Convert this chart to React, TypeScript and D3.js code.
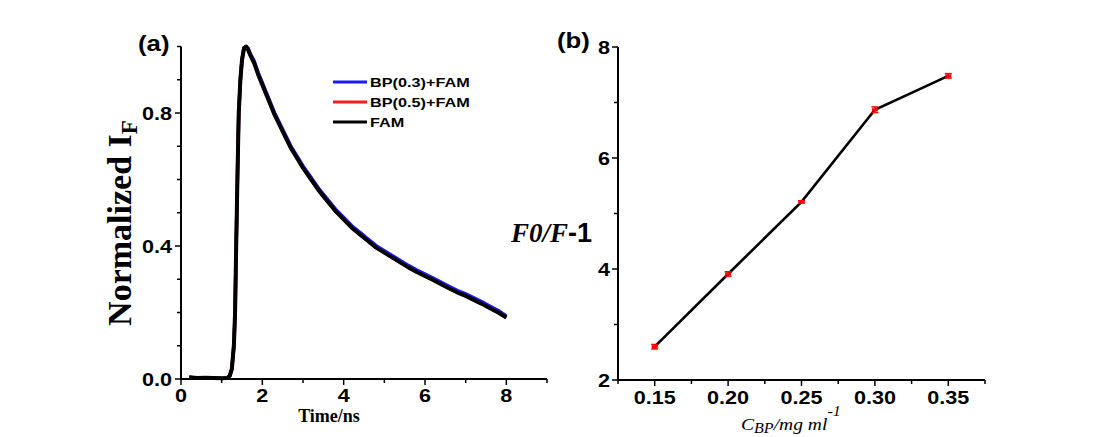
import React from "react";
import * as d3 from "d3";

// panel (a): fluorescence decay
const decayTime = [
  0.2, 0.4, 0.6, 0.8, 1.0, 1.1, 1.15, 1.2, 1.25, 1.3, 1.33, 1.36, 1.39, 1.42, 1.46, 1.5,
  1.55, 1.6, 1.65, 1.7, 1.8, 1.9, 2.0, 2.1, 2.2, 2.3, 2.4, 2.5, 2.6, 2.7, 2.8, 2.9, 3.0,
  3.2, 3.4, 3.6, 3.8, 4.0, 4.2, 4.4, 4.6, 4.8, 5.0, 5.2, 5.4, 5.6, 5.8, 6.0, 6.2, 6.4,
  6.6, 6.8, 7.0, 7.2, 7.4, 7.6, 7.8, 8.0,
];
const famValues = [
  0.005, 0.003, 0.004, 0.003, 0.002, 0.003, 0.004, 0.01, 0.03, 0.1, 0.2, 0.42, 0.62, 0.8,
  0.9, 0.96, 0.995, 1.0, 0.99, 0.975, 0.95, 0.915, 0.885, 0.855, 0.825, 0.795, 0.77,
  0.745, 0.72, 0.695, 0.675, 0.655, 0.635, 0.6, 0.565, 0.535, 0.505, 0.48, 0.455, 0.435,
  0.415, 0.395, 0.38, 0.365, 0.35, 0.335, 0.322, 0.31, 0.298, 0.285, 0.272, 0.26, 0.25,
  0.238, 0.226, 0.213, 0.2, 0.185,
];
const bp03Values = [
  0.005, 0.003, 0.004, 0.003, 0.002, 0.003, 0.004, 0.01, 0.03, 0.1, 0.2, 0.42, 0.62, 0.8,
  0.9, 0.96, 0.995, 1.0, 0.995, 0.98, 0.956, 0.921, 0.891, 0.861, 0.831, 0.801, 0.776,
  0.751, 0.726, 0.701, 0.681, 0.661, 0.641, 0.606, 0.571, 0.541, 0.511, 0.486, 0.461,
  0.441, 0.421, 0.401, 0.386, 0.371, 0.356, 0.341, 0.328, 0.316, 0.304, 0.291, 0.278,
  0.266, 0.256, 0.244, 0.232, 0.219, 0.206, 0.19,
];
const bp05Values = [
  0.005, 0.003, 0.004, 0.003, 0.002, 0.003, 0.004, 0.01, 0.03, 0.1, 0.2, 0.42, 0.62, 0.8,
  0.9, 0.96, 0.995, 1.0, 0.99, 0.975, 0.95, 0.915, 0.885, 0.855, 0.825, 0.795, 0.77,
  0.745, 0.72, 0.695, 0.675, 0.655, 0.635, 0.6, 0.565, 0.535, 0.505, 0.48, 0.455, 0.435,
  0.415, 0.395, 0.38, 0.365, 0.35, 0.335, 0.322, 0.31, 0.298, 0.285, 0.272, 0.26, 0.25,
  0.238, 0.226, 0.213, 0.2, 0.185,
];
const seriesNames = ["BP(0.3)+FAM", "BP(0.5)+FAM", "FAM"];
const seriesColors = ["#1a1aff", "#ff1a1a", "#000000"];

// panel (b): F0/F-1 vs C_BP
const concBP = [0.15, 0.2, 0.25, 0.3, 0.35];
const quench = [2.6, 3.91, 5.21, 6.87, 7.48];
const quenchErr = [0.04, 0.04, 0.02, 0.05, 0.04];

const sans = "'Liberation Sans', Arial, sans-serif";
const serif = "'Liberation Serif', 'Times New Roman', serif";

// bold sans label, a bit wider than normal like the original figure
const Label = ({ x, y, anchor = "middle", size = 18, sx = 1.2, children }: any) => (
  <text
    transform={`translate(${x},${y}) scale(${sx},1)`}
    textAnchor={anchor}
    fontFamily={sans}
    fontWeight="bold"
    fontSize={size}
  >
    {children}
  </text>
);

const App = () => {
  // panel a scales
  const xa = d3.scaleLinear().domain([0, 9]).range([181, 547]);
  const ya = d3.scaleLinear().domain([0, 1]).range([379, 46.5]);
  const line = d3
    .line<number>()
    .x((_, i) => xa(decayTime[i]))
    .y((d) => ya(d));
  const allSeries = [bp03Values, bp05Values, famValues];

  // panel b scales
  const xb = d3.scaleLinear().domain([0.125, 0.375]).range([618, 985]);
  const yb = d3.scaleLinear().domain([2, 8]).range([380, 47]);
  const lineB = d3
    .line<number>()
    .x((_, i) => xb(concBP[i]))
    .y((d) => yb(d));

  const aXTicks = d3.range(0, 10, 1);
  const aYTicks = d3.range(0, 11, 1).map((d) => d / 10);
  const bXTicks = d3.range(0, 6).map((d) => 0.125 + d * 0.05);
  const bXMajor = concBP;
  const bYTicks = d3.range(2, 9, 1);

  return (
    <svg
      width={1103}
      height={437}
      style={{ position: "absolute", left: 0, top: 0, background: "#fff" }}
    >
      {/* ---------- panel (a) ---------- */}
      <g>
        {allSeries.map((vals, k) => (
          <path
            key={k}
            d={line(vals) || ""}
            fill="none"
            stroke={seriesColors[k]}
            strokeWidth={k === 2 ? 4 : 3.4}
            strokeLinejoin="round"
          />
        ))}
        {/* axes */}
        <line x1={xa(0)} x2={xa(0)} y1={ya(0) + 1} y2={ya(1)} stroke="#000" strokeWidth={2} />
        <line x1={xa(0) - 1} x2={xa(9)} y1={ya(0)} y2={ya(0)} stroke="#000" strokeWidth={2} />
        {aXTicks.map((t) => (
          <line
            key={"ax" + t}
            x1={xa(t)}
            x2={xa(t)}
            y1={ya(0)}
            y2={ya(0) + (t % 2 === 0 ? 6 : 4)}
            stroke="#000"
            strokeWidth={1.5}
          />
        ))}
        {aXTicks
          .filter((t) => t % 2 === 0)
          .map((t) => (
            <Label key={"axl" + t} x={xa(t)} y={402}>
              {t}
            </Label>
          ))}
        {aYTicks.map((t, i) => (
          <line
            key={"ay" + i}
            x1={xa(0)}
            x2={xa(0) - (i % 4 === 0 ? 6 : 4)}
            y1={ya(t)}
            y2={ya(t)}
            stroke="#000"
            strokeWidth={1.5}
          />
        ))}
        {[0, 0.4, 0.8].map((t) => (
          <Label key={"ayl" + t} x={172} y={ya(t) + 6.5} anchor="end">
            {t.toFixed(1)}
          </Label>
        ))}
        <text x={329} y={422} textAnchor="middle" fontFamily={serif} fontWeight="bold" fontSize={18}>
          Time/ns
        </text>
        <text
          transform="translate(131,223) rotate(-90)"
          textAnchor="middle"
          fontFamily={serif}
          fontWeight="bold"
          fontSize={34}
        >
          Normalized I
          <tspan fontSize={23} dy={6}>
            F
          </tspan>
        </text>
        <Label x={138} y={51} anchor="start" size={23} sx={1.12}>
          (a)
        </Label>
        {/* legend */}
        {seriesNames.map((name, k) => (
          <g key={name} transform={`translate(333,${82 + k * 20})`}>
            <line x1={0} x2={34} y1={0} y2={0} stroke={seriesColors[k]} strokeWidth={3} />
            <Label x={37} y={5} anchor="start" size={13} sx={1.25}>
              {name}
            </Label>
          </g>
        ))}
      </g>

      {/* ---------- panel (b) ---------- */}
      <g>
        <path d={lineB(quench) || ""} fill="none" stroke="#000" strokeWidth={2.6} />
        {concBP.map((c, i) => (
          <g key={"eb" + i} stroke="#ff0000" strokeWidth={1.5}>
            <line x1={xb(c)} x2={xb(c)} y1={yb(quench[i] - quenchErr[i])} y2={yb(quench[i] + quenchErr[i])} />
            <line x1={xb(c) - 3.5} x2={xb(c) + 3.5} y1={yb(quench[i] - quenchErr[i])} y2={yb(quench[i] - quenchErr[i])} />
            <line x1={xb(c) - 3.5} x2={xb(c) + 3.5} y1={yb(quench[i] + quenchErr[i])} y2={yb(quench[i] + quenchErr[i])} />
            <rect x={xb(c) - 3} y={yb(quench[i]) - 1.5} width={6} height={3} fill="#ff0000" stroke="none" />
          </g>
        ))}
        <line x1={xb(0.125)} x2={xb(0.125)} y1={yb(2) + 1} y2={yb(8)} stroke="#000" strokeWidth={2} />
        <line x1={xb(0.125) - 1} x2={xb(0.375)} y1={yb(2)} y2={yb(2)} stroke="#000" strokeWidth={2} />
        {bXMajor.concat(bXTicks).map((t, i) => (
          <line
            key={"bx" + i}
            x1={xb(t)}
            x2={xb(t)}
            y1={yb(2)}
            y2={yb(2) + (i < bXMajor.length ? 6 : 4)}
            stroke="#000"
            strokeWidth={1.5}
          />
        ))}
        {bXMajor.map((t) => (
          <Label key={"bxl" + t} x={xb(t)} y={404}>
            {t.toFixed(2)}
          </Label>
        ))}
        {bYTicks.map((t) => (
          <line
            key={"by" + t}
            x1={xb(0.125)}
            x2={xb(0.125) - (t % 2 === 0 ? 6 : 4)}
            y1={yb(t)}
            y2={yb(t)}
            stroke="#000"
            strokeWidth={1.5}
          />
        ))}
        {bYTicks
          .filter((t) => t % 2 === 0)
          .map((t) => (
            <Label key={"byl" + t} x={610} y={yb(t) + 6.5} anchor="end">
              {t}
            </Label>
          ))}
        <text x={511} y={242} fontSize={27} fontWeight="bold">
          <tspan fontFamily={serif} fontStyle="italic">
            F0/F
          </tspan>
          <tspan fontFamily={sans}>-1</tspan>
        </text>
        <Label x={557} y={48} anchor="start" size={23} sx={1.12}>
          (b)
        </Label>
        <text
          transform="translate(741,430) scale(1.15,1)"
          fontFamily={serif}
          fontStyle="italic"
          fontSize={17}
        >
          C
          <tspan fontSize={14} dy={3}>
            BP
          </tspan>
          <tspan dy={-3}>/mg ml</tspan>
          <tspan fontSize={14} dy={-14}>
            -1
          </tspan>
        </text>
      </g>
    </svg>
  );
};

export default App;
